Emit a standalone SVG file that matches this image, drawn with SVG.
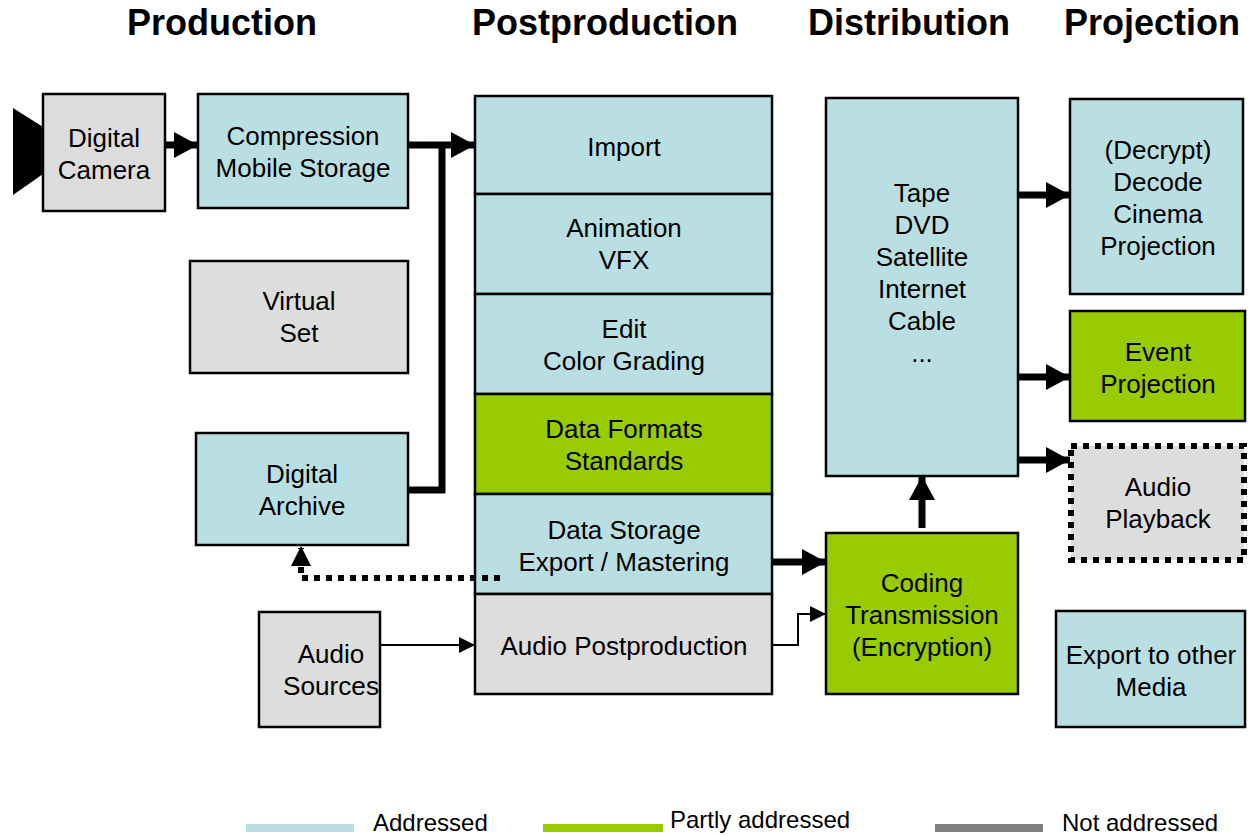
<svg xmlns="http://www.w3.org/2000/svg" width="1252" height="836" viewBox="0 0 1252 836">
<style>
.b{stroke:#000;stroke-width:2.5}
.a{fill:#B9DFE3}
.p{fill:#99CC00}
.n{fill:#DDDDDD}
text{font-family:"Liberation Sans",Arial,sans-serif;font-size:26px;fill:#000;text-anchor:middle}
.h{font-weight:bold;font-size:36px}
.l{font-size:24px;text-anchor:start}
.thick{stroke:#000;stroke-width:7;fill:none}
.thin{stroke:#000;stroke-width:2;fill:none}
</style>
<defs>
<marker id="ah" viewBox="0 0 10 10" refX="10" refY="5" markerWidth="24" markerHeight="26" markerUnits="userSpaceOnUse" orient="auto" preserveAspectRatio="none"><path d="M0,0L10,5L0,10z" fill="#000"/></marker>
<marker id="as" viewBox="0 0 10 10" refX="10" refY="5" markerWidth="16" markerHeight="16" markerUnits="userSpaceOnUse" orient="auto"><path d="M0,0L10,5L0,10z" fill="#000"/></marker>
</defs>
<g id="headers">
<text class="h" x="222" y="35">Production</text>
<text class="h" x="605" y="35">Postproduction</text>
<text class="h" x="909" y="35">Distribution</text>
<text class="h" x="1152" y="35">Projection</text>
</g>
<g id="camera-lens"><polygon points="13,108 43,127 43,174 13,195" fill="#000"/></g>
<g id="digital-camera"><rect class="b n" x="43" y="94" width="122" height="117"/><text x="104" y="147">Digital</text><text x="104" y="179">Camera</text></g>
<g id="compression"><rect class="b a" x="198" y="94" width="210" height="114"/><text x="303" y="145">Compression</text><text x="303" y="177">Mobile Storage</text></g>
<g id="virtual-set"><rect class="b n" x="190" y="261" width="218" height="112"/><text x="299" y="310">Virtual</text><text x="299" y="342">Set</text></g>
<g id="digital-archive"><rect class="b a" x="196" y="433" width="212" height="112"/><text x="302" y="483">Digital</text><text x="302" y="515">Archive</text></g>
<g id="audio-sources"><rect class="b n" x="259" y="612" width="121" height="115"/><text x="331" y="663">Audio</text><text x="331" y="695" textLength="96" lengthAdjust="spacingAndGlyphs">Sources</text></g>
<g id="import"><rect class="b a" x="475" y="96" width="297" height="98"/><text x="624" y="156">Import</text></g>
<g id="animation"><rect class="b a" x="475" y="194" width="297" height="100"/><text x="624" y="237">Animation</text><text x="624" y="269">VFX</text></g>
<g id="edit"><rect class="b a" x="475" y="294" width="297" height="100"/><text x="624" y="338">Edit</text><text x="624" y="370">Color Grading</text></g>
<g id="data-formats"><rect class="b p" x="475" y="394" width="297" height="100"/><text x="624" y="438">Data Formats</text><text x="624" y="470">Standards</text></g>
<g id="data-storage"><rect class="b a" x="475" y="494" width="297" height="100"/><text x="624" y="539">Data Storage</text><text x="624" y="571">Export / Mastering</text></g>
<g id="audio-post"><rect class="b n" x="475" y="594" width="297" height="100"/><text x="624" y="655">Audio Postproduction</text></g>
<g id="distribution"><rect class="b a" x="826" y="98" width="192" height="378"/><text x="922" y="202">Tape</text><text x="922" y="234">DVD</text><text x="922" y="266">Satellite</text><text x="922" y="298">Internet</text><text x="922" y="330">Cable</text><text x="922" y="362">...</text></g>
<g id="coding"><rect class="b p" x="826" y="533" width="192" height="161"/><text x="922" y="592">Coding</text><text x="922" y="624">Transmission</text><text x="922" y="656">(Encryption)</text></g>
<g id="decrypt"><rect class="b a" x="1070" y="99" width="173" height="195"/><text x="1158" y="159">(Decrypt)</text><text x="1158" y="191">Decode</text><text x="1158" y="223">Cinema</text><text x="1158" y="255">Projection</text></g>
<g id="event"><rect class="b p" x="1070" y="311" width="175" height="110"/><text x="1158" y="361">Event</text><text x="1158" y="393">Projection</text></g>
<g id="audio-playback"><rect x="1071" y="446" width="173" height="114" fill="#DDDDDD" stroke="#000" stroke-width="6" stroke-dasharray="6,6"/><text x="1158" y="496">Audio</text><text x="1158" y="528">Playback</text></g>
<g id="export"><rect class="b a" x="1056" y="611" width="189" height="116"/><text x="1151" y="664">Export to other</text><text x="1151" y="696">Media</text></g>
<g id="connectors">
<line class="thick" x1="165" y1="145" x2="198" y2="145" marker-end="url(#ah)"/>
<polyline class="thick" points="408,145 475,145" marker-end="url(#ah)"/>
<polyline class="thick" points="442,145 442,490 408,490"/>
<polyline points="500,578 301,578 301,548" fill="none" stroke="#000" stroke-width="6" stroke-dasharray="6,6" />
<polygon points="301,546 291,566 311,566" fill="#000"/>
<line class="thin" x1="380" y1="645" x2="475" y2="645" marker-end="url(#as)"/>
<line class="thick" x1="772" y1="562" x2="826" y2="562" marker-end="url(#ah)"/>
<polyline class="thin" points="772,645 798,645 798,614 826,614" marker-end="url(#as)"/>
<line class="thick" x1="922" y1="528" x2="922" y2="476" marker-end="url(#ah)"/>
<line class="thick" x1="1018" y1="195" x2="1070" y2="195" marker-end="url(#ah)"/>
<line class="thick" x1="1018" y1="377" x2="1070" y2="377" marker-end="url(#ah)"/>
<line class="thick" x1="1018" y1="460" x2="1070" y2="460" marker-end="url(#ah)"/>
</g>
<g id="legend">
<rect x="246" y="824" width="108" height="8" fill="#B9DFE3"/>
<rect x="543" y="824" width="120" height="8" fill="#99CC00"/>
<rect x="935" y="824" width="108" height="8" fill="#808080"/>
<text class="l" x="373" y="831">Addressed</text>
<text class="l" x="670" y="828">Partly addressed</text>
<text class="l" x="1062" y="831">Not addressed</text>
</g>
</svg>
